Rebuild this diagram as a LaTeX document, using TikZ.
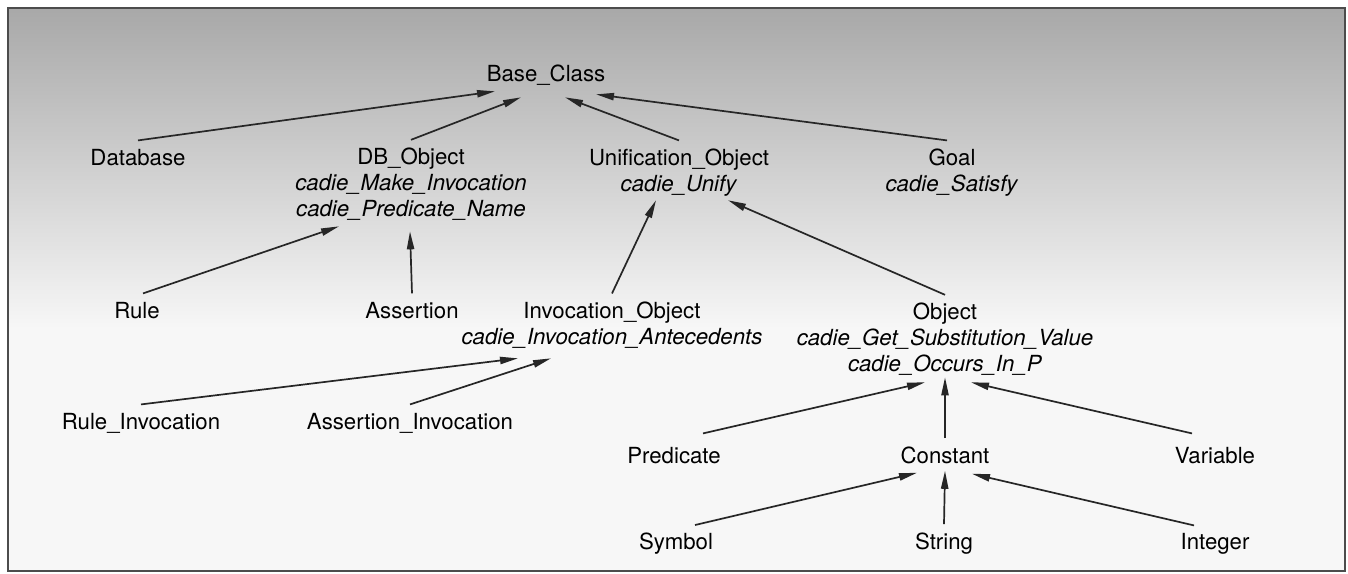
\documentclass[tikz,border=0pt]{standalone}
\usepackage{fontspec}
\setmainfont{TeX Gyre Heros}
\usepackage{tikz}
\usetikzlibrary{calc,arrows.meta}

\begin{document}
\begin{tikzpicture}[x=0.5pt,y=-0.5pt,
	>={Triangle[length=9pt,width=3.6pt]},
	cls/.style={anchor=base,inner sep=4pt,align=center,
		font=\fontsize{11.1}{12.8}\selectfont},
	inh/.style={->,line width=0.85pt,black!85}]
	\newcommand{\mth}[1]{\textit{#1}}

	% frame and shaded paper
	\useasboundingbox (0,0) rectangle (1348,573);
	\shade[top color=black!34,bottom color=black!3] (8,8) rectangle (1345,330);
	\fill[black!3] (8,330) rectangle (1345,571);
	\draw[line width=1pt,black!70] (8,8) rectangle (1345,571);

	% classes (base anchor = last line)
	\node[cls] (base) at (546,81) {Base\_Class};
	\node[cls] (database) at (138,165) {Database};
	\node[cls] (dbobj) at (411,216) {DB\_Object\\\mth{cadie\_Make\_Invocation}\\\mth{cadie\_Predicate\_Name}};
	\node[cls] (unif) at (679,191) {Unification\_Object\\\mth{cadie\_Unify}};
	\node[cls] (goal) at (952,191) {Goal\\\mth{cadie\_Satisfy}};
	\node[cls] (rule) at (137,318) {Rule};
	\node[cls] (assertion) at (412,318) {Assertion};
	\node[cls] (invobj) at (612,344) {Invocation\_Object\\\mth{cadie\_Invocation\_Antecedents}};
	\node[cls] (object) at (945,371) {Object\\\mth{cadie\_Get\_Substitution\_Value}\\\mth{cadie\_Occurs\_In\_P}};
	\node[cls] (ruleinv) at (141,429) {Rule\_Invocation};
	\node[cls] (assertinv) at (410,429) {Assertion\_Invocation};
	\node[cls] (predicate) at (674,463) {Predicate};
	\node[cls] (constant) at (945,463) {Constant};
	\node[cls] (variable) at (1215,463) {Variable};
	\node[cls] (symbol) at (676,549) {Symbol};
	\node[cls] (string) at (944,549) {String};
	\node[cls] (integer) at (1215,549) {Integer};

	% inheritance arrows, child to parent
	\draw[inh] (database.north) -- ($(base.south)+(-51,-2)$);
	\draw[inh] (dbobj.north) -- ($(base.south)+(-25,4)$);
	\draw[inh] (unif.north) -- ($(base.south)+(19,4)$);
	\draw[inh] ($(goal.north)+(-5,0)$) -- ($(base.south)+(50,1)$);

	\draw[inh] ($(rule.north)+(6,0)$) -- ($(dbobj.south)+(-72,-2)$);
	\draw[inh] (assertion.north) -- ($(dbobj.south)+(-1,3)$);
	\draw[inh] (invobj.north) -- ($(unif.south)+(-23,-4)$);
	\draw[inh] (object.north) -- ($(unif.south)+(49,-4)$);

	\draw[inh] (ruleinv.north) -- ($(invobj.south)+(-94,2)$);
	\draw[inh] (assertinv.north) -- ($(invobj.south)+(-61,2)$);

	\draw[inh] ($(predicate.north)+(29,-5)$) -- ($(object.south)+(-20,-1)$);
	\draw[inh] (constant.north) -- ($(object.south)+(0,-6)$);
	\draw[inh] ($(variable.north)+(-23,-5)$) -- ($(object.south)+(26,-1)$);

	\draw[inh] ($(symbol.north)+(19,1)$) -- ($(constant.south)+(-28,1)$);
	\draw[inh] (string.north) -- ($(constant.south)+(0,-1)$);
	\draw[inh] ($(integer.north)+(-21,1)$) -- ($(constant.south)+(27,2)$);
\end{tikzpicture}
\end{document}
